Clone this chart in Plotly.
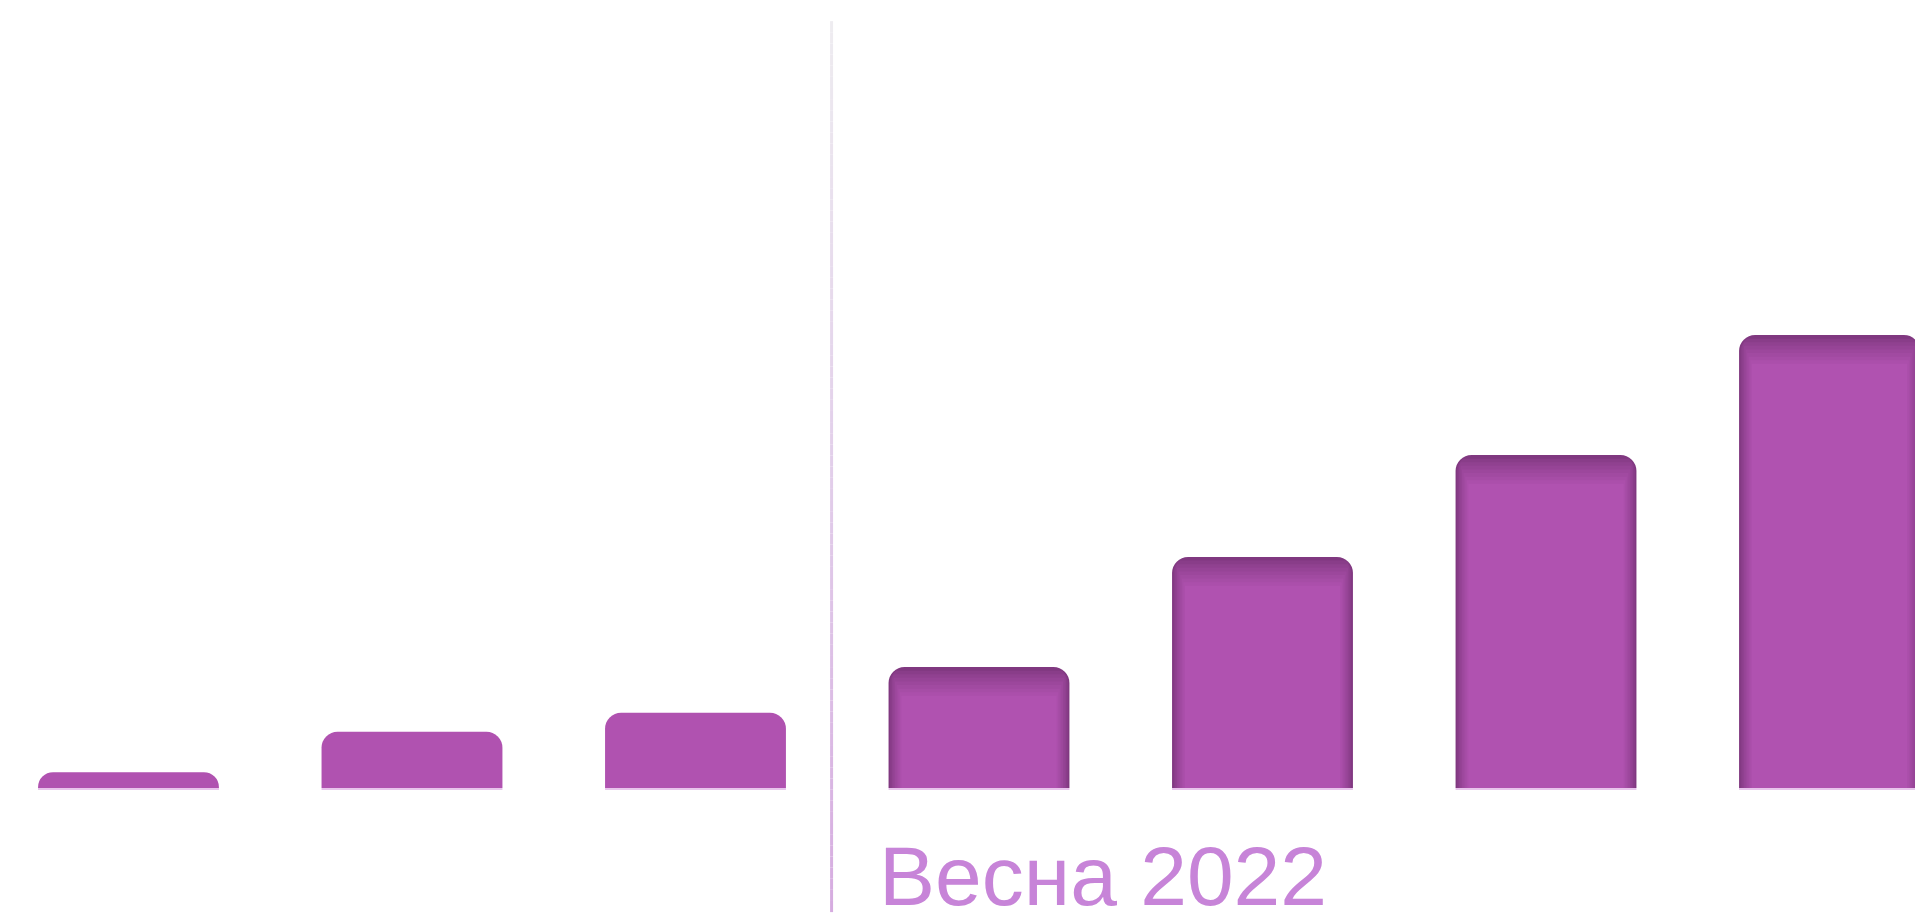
import plotly.graph_objects as go

# ---- data ----
positions = [0, 1, 2, 3, 4, 5, 6]
values = [3.5, 12.4, 16.6, 26.7, 51.0, 73.5, 100.0]
shadowed = [False, False, False, True, True, True, True]
label_text = "Весна 2022"
divider_x = 2.48

# ---- style ----
MAIN = (176, 82, 176)
DARK = (128, 56, 128)
BAR_W = 0.638
PX_PER_UNIT_X = 283.5
PX_PER_UNIT_Y = 4.53
Y_RANGE = [-31.35, 172.2]
X_RANGE = [-0.425, 6.358]


def rgb(c):
    return "rgb(%d,%d,%d)" % tuple(int(round(v)) for v in c)


def mix(a, b, t):
    return tuple(a[i] + (b[i] - a[i]) * t for i in range(3))


fig = go.Figure()

# thin light baseline under each bar
edge = 2.0 / PX_PER_UNIT_Y
fig.add_trace(go.Bar(
    x=positions, y=[edge] * len(positions), base=-edge, width=BAR_W,
    marker=dict(color="rgb(232,196,236)", line=dict(width=0)),
    hoverinfo="skip", showlegend=False,
))

# base bars
base_colors = [rgb(DARK) if s else rgb(MAIN) for s in shadowed]
fig.add_trace(go.Bar(
    x=positions, y=values, width=BAR_W,
    marker=dict(color=base_colors, cornerradius=16, line=dict(width=0)),
    hoverinfo="skip", showlegend=False,
))

# inner-shadow layers (only for shadowed bars)
sx = [p for p, s in zip(positions, shadowed) if s]
sv = [v for v, s in zip(values, shadowed) if s]
n_layers = 8
for i in range(1, n_layers + 1):
    t = i / n_layers
    side_px = i * 1.6
    top_px = i * 3.6
    w = BAR_W - 2 * side_px / PX_PER_UNIT_X
    ys = [v - top_px / PX_PER_UNIT_Y for v in sv]
    col = mix(DARK, MAIN, t ** 0.8)
    fig.add_trace(go.Bar(
        x=sx, y=ys, width=w,
        marker=dict(color=rgb(col), cornerradius=max(16 - i, 8), line=dict(width=0)),
        hoverinfo="skip", showlegend=False,
    ))

# divider line with gradient (top grey -> bottom lavender)
y_top, y_bot = 169.3, -27.4
top_c = (238, 236, 240)
mid_c = (226, 206, 234)
bot_c = (214, 172, 224)
nseg = 80
for k in range(nseg):
    ya = y_top + (y_bot - y_top) * k / nseg
    yb = y_top + (y_bot - y_top) * (k + 1) / nseg
    t = (k + 0.5) / nseg
    c = mix(top_c, mid_c, t / 0.5) if t < 0.5 else mix(mid_c, bot_c, (t - 0.5) / 0.5)
    fig.add_shape(type="line", x0=divider_x, x1=divider_x, y0=ya, y1=yb,
                  xref="x", yref="y", line=dict(color=rgb(c), width=3), layer="below")

fig.add_annotation(
    x=870 / 1923, y=6 / 922, xref="paper", yref="paper",
    xanchor="left", yanchor="bottom", showarrow=False,
    text=label_text, borderpad=0,
    font=dict(family="Liberation Sans, Arial, sans-serif", size=84, color="#c784d8"),
)

fig.update_layout(
    width=1923, height=922,
    margin=dict(l=0, r=0, t=0, b=0),
    paper_bgcolor="white", plot_bgcolor="white",
    barmode="overlay",
    xaxis=dict(range=X_RANGE, visible=False, fixedrange=True),
    yaxis=dict(range=Y_RANGE, visible=False, fixedrange=True),
    showlegend=False,
)

fig.write_html("out.html")
